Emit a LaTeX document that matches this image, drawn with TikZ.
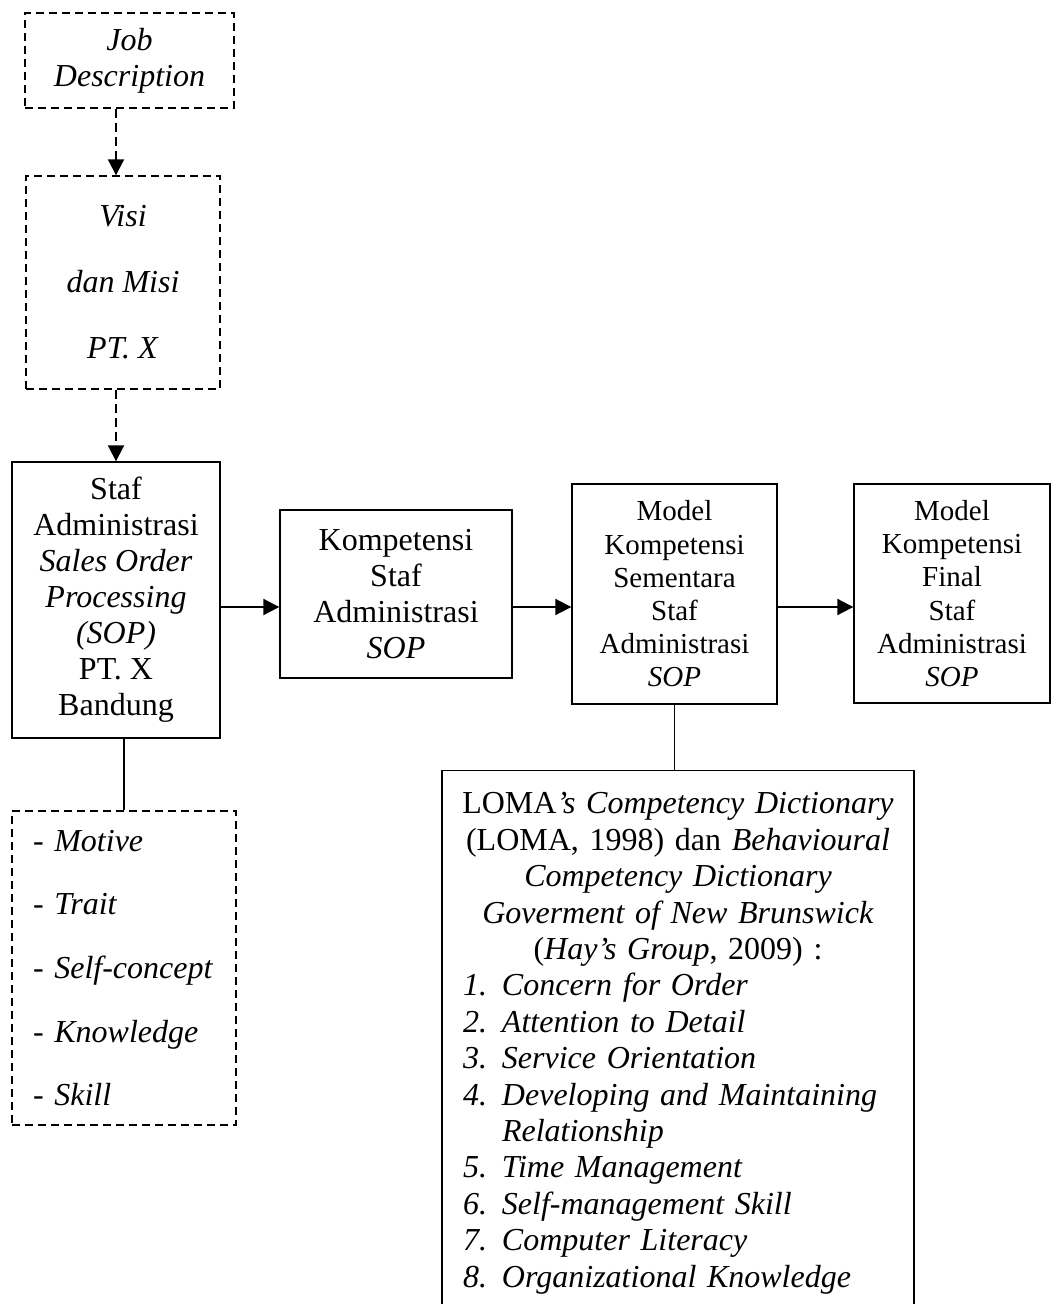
\documentclass[tikz,border=0pt]{standalone}
\usepackage{fontspec}
\setmainfont{Liberation Serif}
\usepackage{tikz}
\usetikzlibrary{positioning,arrows.meta}

\begin{document}
\begin{tikzpicture}[x=0.5pt,y=-0.5pt]
\tikzstyle{every node}+=[inner sep=0pt, font=\fontsize{16}{18}\selectfont]
\tikzstyle{box}=[draw, line width=0.7pt, rectangle, align=center]
\tikzstyle{dbox}=[box, dash pattern=on 4pt off 2.5pt]
\tikzstyle{small}=[font=\fontsize{14.5}{16.6}\selectfont]
\tikzstyle{arrow}=[line width=1pt, -{Triangle[length=8pt,width=8pt]}]
\tikzstyle{darrow}=[arrow, dash pattern=on 4.5pt off 2.5pt]
\tikzstyle{link}=[line width=0.8pt]
\useasboundingbox (0,0) rectangle (1051,1304);
\node [dbox, minimum width=104.5pt, minimum height=47.5pt] (job) at (129.5,60.5) {\textit{Job}\\\textit{Description}};
\node [dbox, minimum width=97pt, minimum height=106.5pt] (visi) at (123,282.5) {\textit{Visi}\\[15pt]\textit{dan Misi}\\[15pt]\textit{PT. X}};
\node [box, minimum width=104pt, minimum height=138pt] (staf) at (116,600) {Staf\\Administrasi\\\textit{Sales Order}\\\textit{Processing}\\\textit{(SOP)}\\PT. X\\Bandung};
\node [box, minimum width=116pt, minimum height=84pt] (komp) at (396,594) {Kompetensi\\Staf\\Administrasi\\\textit{SOP}};
\node [box, small, minimum width=102.5pt, minimum height=110pt] (sem) at (674.5,594) {Model\\Kompetensi\\Sementara\\Staf\\Administrasi\\\textit{SOP}};
\node [box, small, minimum width=98pt, minimum height=109.5pt] (fin) at (952,593.5) {Model\\Kompetensi\\Final\\Staf\\Administrasi\\\textit{SOP}};
\node [dbox, font=\fontsize{16}{18.3}\selectfont, align=left, text width=91pt, inner xsep=10.5pt, minimum height=157pt] (traits) at (124,968) {- \textit{Motive}\\[13.5pt]- \textit{Trait}\\[13.5pt]- \textit{Self-concept}\\[13.5pt]- \textit{Knowledge}\\[13.5pt]- \textit{Skill}};
\node [draw, line width=0.7pt, anchor=north, text width=222pt, inner xsep=7pt, inner ysep=11pt, font=\fontsize{16}{18.2}\selectfont] (loma) at (678,770) {\parindent=0pt
{\centering LOMA\textit{’s Competency Dictionary}\\(LOMA, 1998) dan \textit{Behavioural}\\\textit{Competency Dictionary}\\\textit{Goverment of New Brunswick}\\(\textit{Hay’s Group}, 2009) :\par}
{\raggedright\leftskip=3.5pt
\makebox[19.5pt][l]{\textit{1.}}\textit{Concern for Order}\par
\makebox[19.5pt][l]{\textit{2.}}\textit{Attention to Detail}\par
\makebox[19.5pt][l]{\textit{3.}}\textit{Service Orientation}\par
\makebox[19.5pt][l]{\textit{4.}}\textit{Developing and Maintaining}\par
\hspace*{19.5pt}\textit{Relationship}\par
\makebox[19.5pt][l]{\textit{5.}}\textit{Time Management}\par
\makebox[19.5pt][l]{\textit{6.}}\textit{Self-management Skill}\par
\makebox[19.5pt][l]{\textit{7.}}\textit{Computer Literacy}\par
\makebox[19.5pt][l]{\textit{8.}}\textit{Organizational Knowledge}\par}};
\coordinate (row) at (0,607);
\draw [darrow] (job.south -| staf) -- (visi.north -| staf);
\draw [darrow] (visi.south -| staf) -- (staf.north);
\draw [arrow] (staf.east |- row) -- (komp.west |- row);
\draw [arrow] (komp.east |- row) -- (sem.west |- row);
\draw [arrow] (sem.east |- row) -- (fin.west |- row);
\draw [link] (traits.north) -- (traits.north |- staf.south);
\draw [link] (sem.south) -- (sem.south |- loma.north);
\end{tikzpicture}
\end{document}
